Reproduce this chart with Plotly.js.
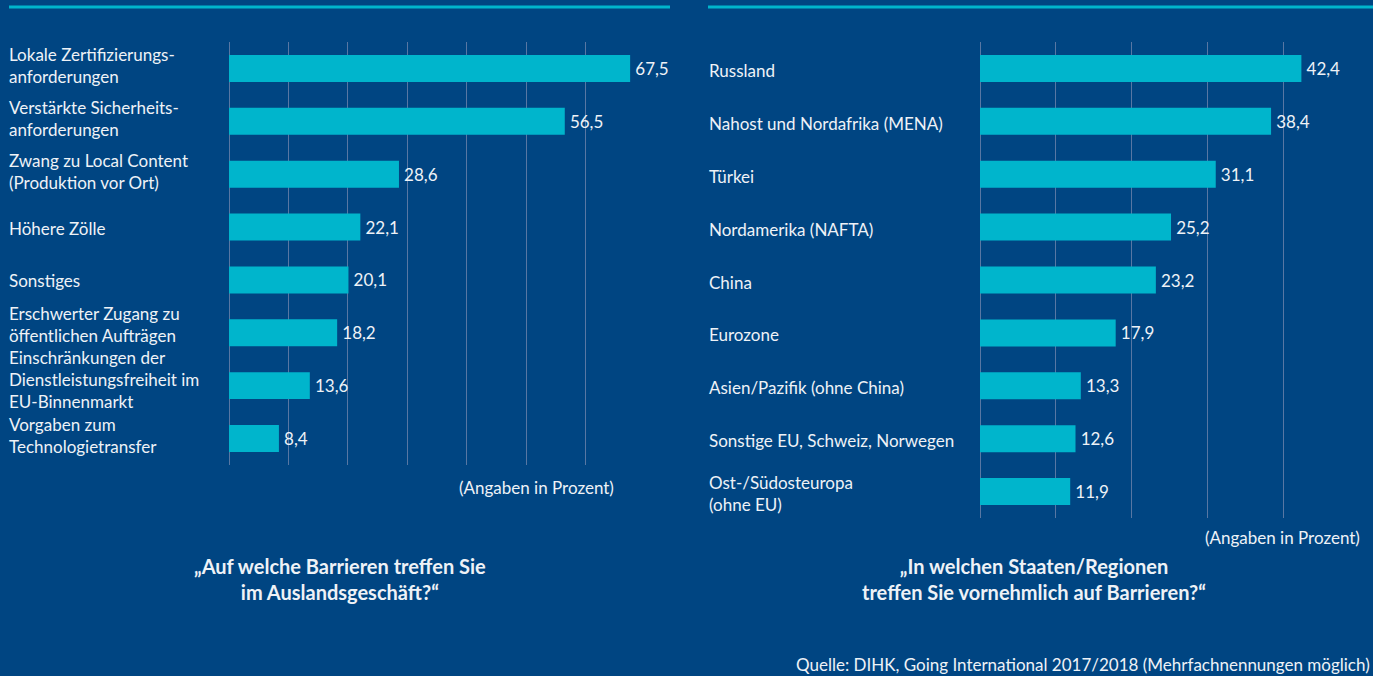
<!DOCTYPE html>
<html>
<head>
<meta charset="utf-8">
<script src="https://cdn.plot.ly/plotly-3.0.1.min.js"></script>
<style>html,body{margin:0;padding:0;background:#004582;}#chart{width:1373px;height:676px;}</style>
</head>
<body>
<div id="chart"></div>
<script>
// ---- data ----
const barrierCategories = [
  "Lokale Zertifizierungs-<br>anforderungen",
  "Verstärkte Sicherheits-<br>anforderungen",
  "Zwang zu Local Content<br>(Produktion vor Ort)",
  "Höhere Zölle",
  "Sonstiges",
  "Erschwerter Zugang zu<br>öffentlichen Aufträgen",
  "Einschränkungen der<br>Dienstleistungsfreiheit im<br>EU-Binnenmarkt",
  "Vorgaben zum<br>Technologietransfer"
];
const barrierValues = [67.5, 56.5, 28.6, 22.1, 20.1, 18.2, 13.6, 8.4];

const regionCategories = [
  "Russland",
  "Nahost und Nordafrika (MENA)",
  "Türkei",
  "Nordamerika (NAFTA)",
  "China",
  "Eurozone",
  "Asien/Pazifik (ohne China)",
  "Sonstige EU, Schweiz, Norwegen",
  "Ost-/Südosteuropa<br>(ohne EU)"
];
const regionValues = [42.4, 38.4, 31.1, 25.2, 23.2, 17.9, 13.3, 12.6, 11.9];

const leftTitle = "„Auf welche Barrieren treffen Sie<br>im Auslandsgeschäft?“";
const rightTitle = "„In welchen Staaten/Regionen<br>treffen Sie vornehmlich auf Barrieren?“";
const unitNote = "(Angaben in Prozent)";
const sourceNote = "Quelle: DIHK, Going International 2017/2018 (Mehrfachnennungen möglich)";

// ---- styling ----
const W = 1373, H = 676;
const BG = "#004582", BAR = "#00b5cc", GRID = "#5877a3", TXT = "#eef2f7";
const FONT = "Lato, 'Noto Sans', sans-serif";
const FS = 17;
const fmt = v => v.toFixed(1).replace(".", ",");
const px = x => x / W;
const py = y => 1 - y / H;

const traces = [
  {
    type: "bar", orientation: "h",
    x: barrierValues, y: barrierCategories,
    xaxis: "x", yaxis: "y",
    marker: {color: BAR},
    text: barrierValues.map(v => "\u2009" + fmt(v)),
    textposition: "outside", cliponaxis: false,
    textfont: {color: TXT, size: FS, family: FONT},
    hoverinfo: "skip"
  },
  {
    type: "bar", orientation: "h",
    x: regionValues, y: regionCategories,
    xaxis: "x2", yaxis: "y2",
    marker: {color: BAR},
    text: regionValues.map(v => "\u2009" + fmt(v)),
    textposition: "outside", cliponaxis: false,
    textfont: {color: TXT, size: FS, family: FONT},
    hoverinfo: "skip"
  }
];

const axX = (d, r) => ({
  domain: d, range: r, dtick: 10, tick0: 0,
  showgrid: true, gridcolor: GRID, gridwidth: 1,
  zeroline: true, zerolinecolor: GRID, zerolinewidth: 1,
  showticklabels: false, ticks: "", showline: false, fixedrange: true
});
const axY = (d, anchor) => ({
  domain: d, anchor: anchor, autorange: "reversed", type: "category",
  showticklabels: false, showgrid: false, zeroline: false, ticks: "", fixedrange: true
});

// label vertical nudges (styling only): multi-line labels sit slightly above bar centre
const nudge = c => {
  const lines = c.split("<br>").length;
  if (c.startsWith("Erschwerter")) return 8;
  if (lines === 3) return 6;
  if (lines === 2) return 3;
  return -1;
};

const annotations = [];
barrierCategories.forEach(c => annotations.push({
  xref: "paper", yref: "y", x: px(7), y: c, xanchor: "left", yanchor: "middle",
  yshift: nudge(c),
  text: c, showarrow: false, align: "left",
  font: {color: TXT, size: FS, family: FONT}
}));
regionCategories.forEach(c => annotations.push({
  xref: "paper", yref: "y2", x: px(707), y: c, xanchor: "left", yanchor: "middle",
  yshift: -2,
  text: c, showarrow: false, align: "left",
  font: {color: TXT, size: FS, family: FONT}
}));
annotations.push(
  {xref: "paper", yref: "paper", x: px(536), y: py(487), xanchor: "center", yanchor: "middle",
   text: unitNote, showarrow: false, font: {color: TXT, size: FS, family: FONT}},
  {xref: "paper", yref: "paper", x: px(1362), y: py(537), xanchor: "right", yanchor: "middle",
   text: unitNote, showarrow: false, font: {color: TXT, size: FS, family: FONT}},
  {xref: "paper", yref: "paper", x: px(340), y: py(579), xanchor: "center", yanchor: "middle",
   text: "<b>" + leftTitle + "</b>", showarrow: false, align: "center",
   font: {color: TXT, size: 20, family: FONT}},
  {xref: "paper", yref: "paper", x: px(1034), y: py(579), xanchor: "center", yanchor: "middle",
   text: "<b>" + rightTitle + "</b>", showarrow: false, align: "center",
   font: {color: TXT, size: 20, family: FONT}},
  {xref: "paper", yref: "paper", x: px(1372), y: py(664), xanchor: "right", yanchor: "middle",
   text: sourceNote, showarrow: false, font: {color: TXT, size: FS, family: FONT}}
);

const layout = {
  width: W, height: H,
  margin: {l: 0, r: 0, t: 0, b: 0},
  paper_bgcolor: BG, plot_bgcolor: BG,
  showlegend: false, bargap: 0.49,
  font: {family: FONT, color: TXT},
  xaxis: axX([px(229), px(645)], [0, 70]),
  yaxis: axY([py(465), py(42)], "x"),
  xaxis2: Object.assign(axX([px(980), px(1359)], [0, 50]), {anchor: "y2"}),
  yaxis2: axY([py(518), py(42)], "x2"),
  shapes: [
    {type: "line", xref: "paper", yref: "paper", x0: px(9), x1: px(670), y0: py(7), y1: py(7),
     line: {color: BAR, width: 3}},
    {type: "line", xref: "paper", yref: "paper", x0: px(708), x1: 1, y0: py(7), y1: py(7),
     line: {color: BAR, width: 3}}
  ],
  annotations: annotations
};

Plotly.newPlot("chart", traces, layout, {staticPlot: true, displayModeBar: false});
</script>
</body>
</html>
